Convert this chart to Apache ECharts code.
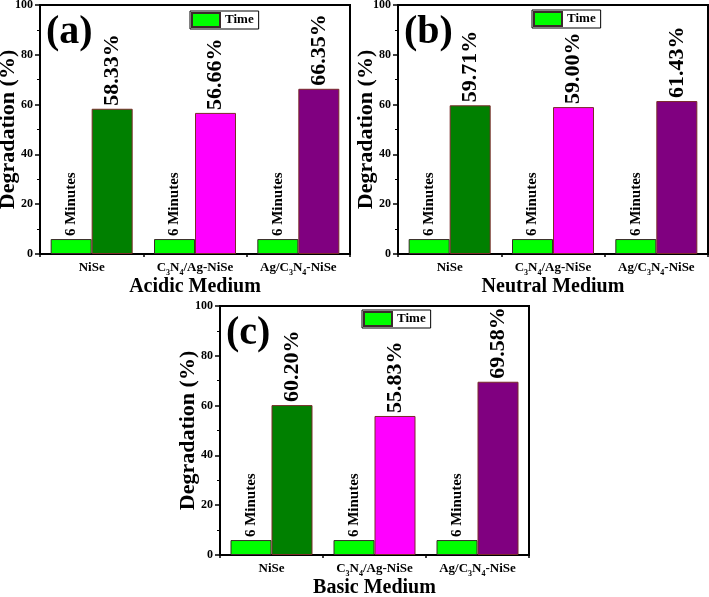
<!DOCTYPE html>
<html>
<head>
<meta charset="utf-8">
<script src="https://cdn.jsdelivr.net/npm/echarts@6/dist/echarts.min.js"></script>
<style>html,body{margin:0;padding:0;background:#fff;}#c{width:709px;height:597px;}</style>
</head>
<body>
<div id="c"></div>
<script>
// ---- data ----
const categories = ['NiSe', 'C3N4/Ag-NiSe', 'Ag/C3N4-NiSe'];
const timeA = [6, 6, 6];
const timeB = [6, 6, 6];
const timeC = [6, 6, 6];
const degA = [58.33, 56.66, 66.35];
const degB = [59.71, 59.00, 61.43];
const degC = [60.20, 55.83, 69.58];
const timeLabel = '6 Minutes';
const mediums = ['Acidic Medium', 'Neutral Medium', 'Basic Medium'];
const panelLabels = ['(a)', '(b)', '(c)'];
const yTickValues = [0, 20, 40, 60, 80, 100];
const barColors = ['#008000', '#ff00ff', '#800080'];

const FONT = '"Liberation Serif", "Times New Roman", serif';
const layouts = [
  { left: 40, top: 5, width: 310, height: 249, legendLeft: 190, legendTop: 11 },
  { left: 398, top: 5, width: 310, height: 249, legendLeft: 532, legendTop: 10 },
  { left: 220, top: 306, width: 309, height: 249, legendLeft: 362, legendTop: 310 }
];
const times = [timeA, timeB, timeC];
const degs = [degA, degB, degC];

const richCat = {
  n: { fontFamily: FONT, fontWeight: 'bold', fontSize: 13, color: '#000', lineHeight: 14, verticalAlign: 'bottom' },
  s: { fontFamily: FONT, fontWeight: 'bold', fontSize: 8, color: '#000', lineHeight: 8, verticalAlign: 'bottom', padding: [0, 0, -3, 0] }
};
function catFormatter(v) {
  return v.replace(/([A-Za-z\/\-]+)|(\d+)/g, function (m, w, d) {
    return w ? '{n|' + w + '}' : '{s|' + d + '}';
  });
}

const grid = [], xAxis = [], yAxis = [], series = [], legend = [], title = [];
layouts.forEach(function (L, i) {
  grid.push({ left: L.left, top: L.top, width: L.width, height: L.height, show: true, borderColor: '#000', borderWidth: 2, containLabel: false, outerBoundsMode: 'none' });
  xAxis.push({
    type: 'category', gridIndex: i, data: categories,
    name: mediums[i], nameLocation: 'middle', nameGap: 23, nameMoveOverlap: false,
    nameTextStyle: { fontFamily: FONT, fontWeight: 'bold', fontSize: 20, color: '#000' },
    axisLine: { lineStyle: { color: '#000', width: 2 } },
    axisTick: { alignWithLabel: true, length: 5, lineStyle: { width: 1.5, color: '#000' } },
    axisLabel: { interval: 0, formatter: catFormatter, rich: richCat, margin: 6, hideOverlap: false },
    splitLine: { show: false }
  });
  yAxis.push({
    type: 'value', gridIndex: i, min: 0, max: 100, interval: 20,
    name: 'Degradation (%)', nameLocation: 'middle', nameGap: 21, nameMoveOverlap: false,
    nameTextStyle: { fontFamily: FONT, fontWeight: 'bold', fontSize: 22, color: '#000', verticalAlign: 'bottom' },
    axisLine: { show: true, lineStyle: { color: '#000', width: 2 } },
    axisTick: { show: true, length: 5, lineStyle: { width: 1.5, color: '#000' } },
    minorTick: { show: true, splitNumber: 2, length: 3, lineStyle: { color: '#000', width: 1 } },
    axisLabel: { fontFamily: FONT, fontWeight: 'bold', fontSize: 12, color: '#000', margin: 7,
      formatter: function (v) { return yTickValues.indexOf(v) >= 0 ? String(v) : ''; } },
    splitLine: { show: false }
  });
});
// secondary axes for boundary ticks
layouts.forEach(function (L, i) {
  xAxis.push({
    type: 'category', gridIndex: i, data: categories, position: 'bottom',
    axisLine: { show: false }, axisLabel: { show: false },
    axisTick: { show: true, length: 3, lineStyle: { width: 1.5, color: '#000' } }
  });
});
layouts.forEach(function (L, i) {
  series.push({
    name: 'Time', type: 'bar', xAxisIndex: i, yAxisIndex: i, data: times[i],
    barWidth: 41, barGap: '0%',
    itemStyle: { color: '#00ff00', borderColor: '#3a2a2a', borderWidth: 1 },
    label: { show: true, position: 'top', rotate: 90, align: 'left', verticalAlign: 'middle', distance: 3,
      formatter: function () { return timeLabel; },
      fontFamily: FONT, fontWeight: 'bold', fontSize: 15, color: '#000' }
  });
  series.push({
    name: 'Degradation', type: 'bar', xAxisIndex: i, yAxisIndex: i,
    data: degs[i].map(function (v, k) { return { value: v, itemStyle: { color: barColors[k] } }; }),
    barWidth: 41, barGap: '0%',
    itemStyle: { borderColor: '#7a2a2a', borderWidth: 1 },
    label: { show: true, position: 'top', rotate: 90, align: 'left', verticalAlign: 'middle', distance: 3,
      formatter: function (p) { return p.value.toFixed(2) + '%'; },
      fontFamily: FONT, fontWeight: 'bold', fontSize: 22, color: '#000' }
  });
  legend.push({
    data: ['Time'], left: L.legendLeft, top: L.legendTop, orient: 'horizontal',
    itemWidth: 28, itemHeight: 14, itemGap: 4, padding: [1, 5, 1, 1],
    borderColor: '#000', borderWidth: 1, backgroundColor: '#fff',
    icon: 'rect', selectedMode: false,
    textStyle: { fontFamily: FONT, fontWeight: 'bold', fontSize: 13, color: '#000', padding: [0, 0, 0, 0] }
  });
  title.push({
    text: panelLabels[i], left: L.left + 6, top: L.top + 8, padding: 0,
    textStyle: { fontFamily: FONT, fontWeight: 'bold', fontSize: 40, color: '#000' }
  });
});

const chart = echarts.init(document.getElementById('c'), null, { renderer: 'canvas' });
chart.setOption({
  backgroundColor: '#fff',
  animation: false,
  title: title,
  legend: legend,
  grid: grid,
  xAxis: xAxis,
  yAxis: yAxis,
  series: series
});
</script>
</body>
</html>
